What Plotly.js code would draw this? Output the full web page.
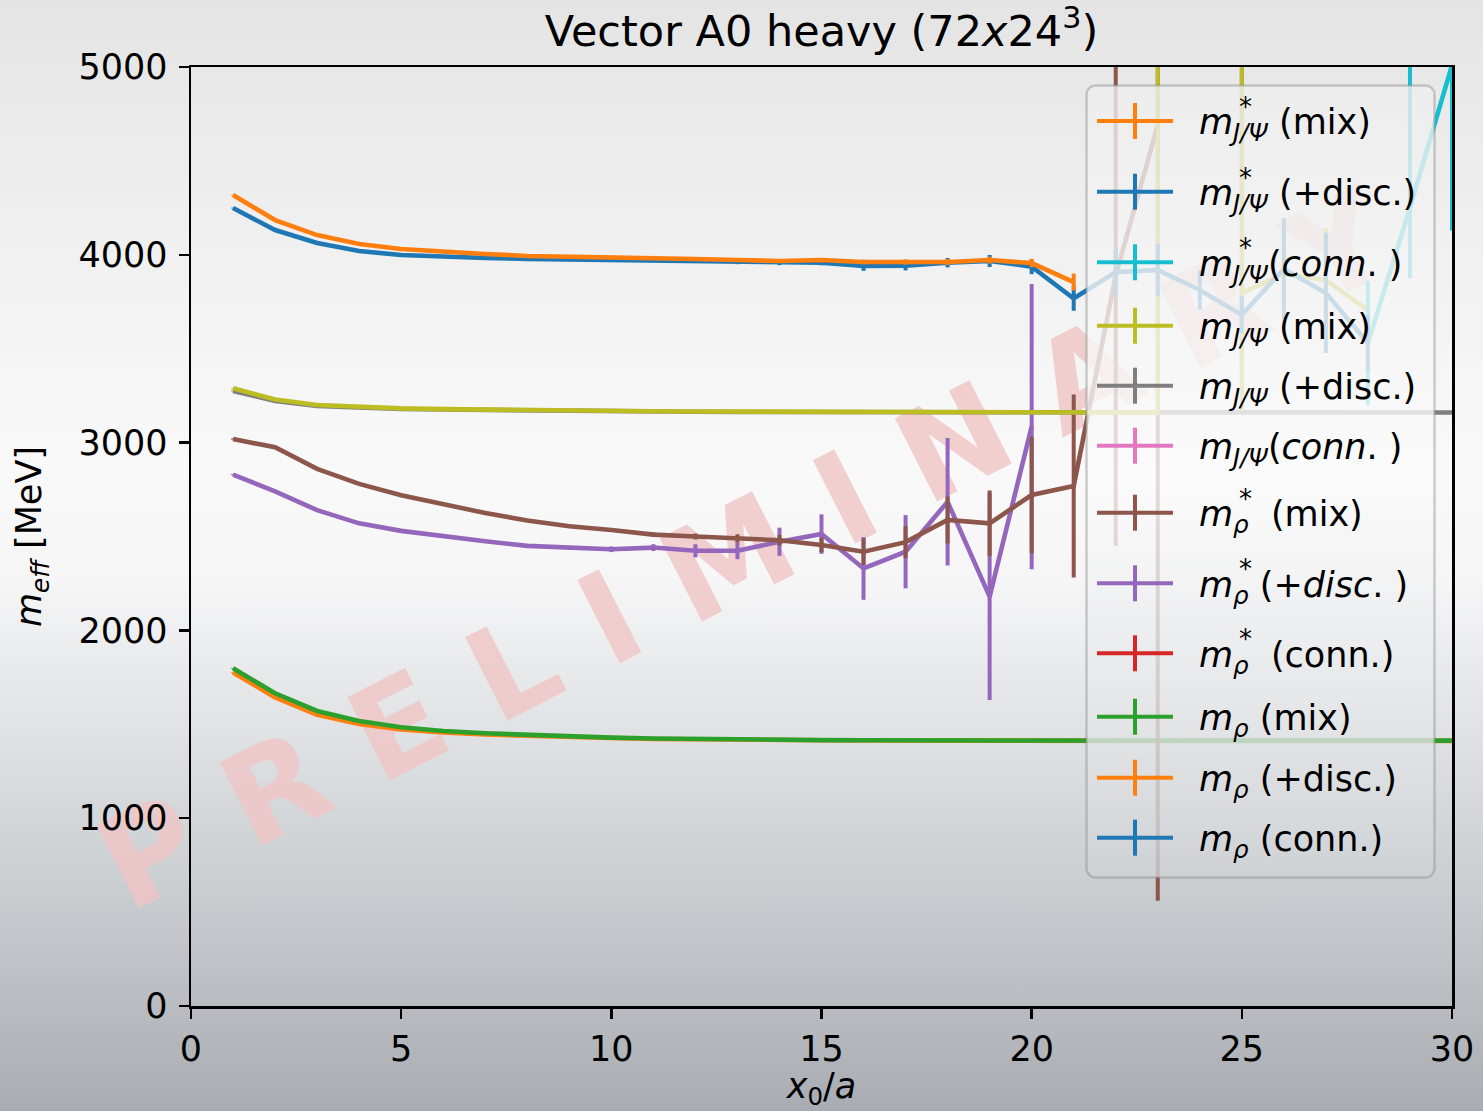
<!DOCTYPE html>
<html><head><meta charset="utf-8">
<script src="https://cdn.plot.ly/plotly-3.0.1.min.js"></script>
<style>
html,body{margin:0;padding:0;}
body{width:1483px;height:1111px;overflow:hidden;background:linear-gradient(to bottom,#e4e4e4 0%,#ebebeb 12%,#f3f3f3 28%,#f9f9f9 42%,#f6f6f7 52%,#e6e7e9 62%,#d3d6d9 74%,#c0c4c8 86%,#a9adb3 100%);}
#chart{width:1483px;height:1111px;}
</style></head><body><div id="chart"></div><script>
// ---------------- data ----------------
const xVals = [1,2,3,4,5,6,7,8,9,10,11,12,13,14,15,16,17,18,19,20,21,22,23,24,25,26,27,28,29,30];
const xTickVals = [0,5,10,15,20,25,30];
const xTickText = ['0','5','10','15','20','25','30'];
const yTickVals = [0,1000,2000,3000,4000,5000];
const yTickText = ['0','1000','2000','3000','4000','5000'];

const seriesLabels = [
 '<i>m</i><sub><i>J/Ψ</i></sub> (mix)',
 '<i>m</i><sub><i>J/Ψ</i></sub> (+disc.)',
 '<i>m</i><sub><i>J/Ψ</i></sub>(<i>conn</i>. )',
 '<i>m</i><sub><i>J/Ψ</i></sub> (mix)',
 '<i>m</i><sub><i>J/Ψ</i></sub> (+disc.)',
 '<i>m</i><sub><i>J/Ψ</i></sub>(<i>conn</i>. )',
 '<i>m</i><sub><i>ρ</i></sub>\u00a0\u00a0(mix)',
 '<i>m</i><sub><i>ρ</i></sub>\u00a0(+<i>disc</i>. )',
 '<i>m</i><sub><i>ρ</i></sub>\u00a0\u00a0(conn.)',
 '<i>m</i><sub><i>ρ</i></sub> (mix)',
 '<i>m</i><sub><i>ρ</i></sub> (+disc.)',
 '<i>m</i><sub><i>ρ</i></sub> (conn.)'
];
const starred = [true,true,true,false,false,false,true,true,true,false,false,false];
const seriesColors = ['#ff7f0e','#1f77b4','#17becf','#bcbd22','#7f7f7f','#e377c2','#8c564b','#9467bd','#d62728','#2ca02c','#ff7f0e','#1f77b4'];

// m*_J/Psi (mix)
const jpsiStarMix = [4318,4185,4105,4057,4031,4015,4004,3994,3991,3988,3983,3978,3972,3967,3972,3962,3962,3962,3972,3956,3855,null,null,null,null,null,null,null,null,null];
const jpsiStarMixErr = [2,2,3,3,3,4,4,4,5,5,6,6,7,8,10,12,14,16,18,22,45,null,null,null,null,null,null,null,null,null];
// m*_J/Psi (+disc.)
const jpsiStarDisc = [4249,4132,4063,4020,3999,3988,3983,3978,3975,3972,3968,3963,3958,3955,3958,3940,3942,3958,3967,3937,3767,3908,3919,3813,3680,3925,3797,3530,null,null];
const jpsiStarDiscErr = [2,2,3,3,3,4,4,5,5,5,6,7,8,10,14,25,25,25,32,40,65,120,140,105,100,270,320,150,null,null];
// m*_J/Psi (conn.)
const jpsiStarConn = [null,null,null,null,null,null,null,null,null,null,null,null,null,null,null,null,null,null,null,null,null,null,null,null,null,null,null,3530,4250,5010];
const jpsiStarConnErrPlus = [null,null,null,null,null,null,null,null,null,null,null,null,null,null,null,null,null,null,null,null,null,null,null,null,null,null,null,330,1200,900];
const jpsiStarConnErrMinus = [null,null,null,null,null,null,null,null,null,null,null,null,null,null,null,null,null,null,null,null,null,null,null,null,null,null,null,330,373,880];
// m_J/Psi (mix)
const jpsiMix = [3289,3230,3200,3188,3182,3178,3175,3172,3170,3168,3167,3166,3165,3165,3164,3164,3163,3163,3163,3162,3162,3162,3160,null,3797,3900,3865,3705,null,null];
const jpsiMixErrPlus = [2,2,2,2,2,2,2,2,2,2,2,2,2,2,3,3,3,3,4,4,5,6,3000,null,2000,150,277,150,null,null];
const jpsiMixErrMinus = [2,2,2,2,2,2,2,2,2,2,2,2,2,2,3,3,3,3,4,4,5,6,10,null,627,150,277,150,null,null];
// m_J/Psi (+disc.)
const jpsiDisc = [3275,3222,3195,3184,3179,3176,3173,3170,3168,3166,3165,3164,3163,3163,3162,3162,3161,3161,3161,3160,3160,3160,3160,3160,3160,3160,3160,3160,3160,3160];
const jpsiDiscErr = [2,2,2,2,2,2,2,2,2,2,2,2,2,2,3,3,3,3,4,4,5,5,6,6,7,7,8,8,9,9];
// m_J/Psi (conn.)
const jpsiConn = [];
// m*_rho (mix)
const rhoStarMix = [3019,2975,2860,2780,2720,2670,2625,2585,2555,2535,2510,2500,2490,2480,2455,2419,2470,2588,2570,2721,2769,3890,4690,null,4500,null,null,null,null,null];
const rhoStarMixErrPlus = [3,3,4,4,5,5,6,7,8,10,12,16,22,28,39,70,85,125,175,310,487,1500,4200,null,1500,null,null,null,null,null];
const rhoStarMixErrMinus = [3,3,4,4,5,5,6,7,8,10,12,16,22,28,39,70,85,125,175,310,487,1440,4130,null,1330,null,null,null,null,null];
// m*_rho (+disc.)
const rhoStarDisc = [2830,2740,2640,2570,2530,2500,2475,2450,2440,2432,2441,2424,2424,2472,2513,2330,2419,2685,2180,3085,null,null,null,null,null,null,null,null,null,null];
const rhoStarDiscErr = [3,4,4,5,5,6,7,8,10,15,18,35,45,75,105,167,195,340,550,760,null,null,null,null,null,null,null,null,null,null];
// m*_rho (conn.)
const rhoStarConn = [];
// m_rho (mix)
const rhoMix = [1798,1665,1571,1518,1484,1464,1452,1443,1434,1429,1424,1421,1419,1417,1416,1415,1414,1414,1413,1413,1413,1413,1413,1413,1413,1413,1413,1413,1413,1413];
const rhoMixErr = [2,2,2,2,2,2,2,2,2,2,2,2,2,2,2,2,2,2,2,2,2,2,2,2,2,2,2,2,2,2];
// m_rho (+disc.)
const rhoDisc = [1776,1643,1550,1502,1473,1456,1446,1438,1432,1427,1422,1419,1417,1416,1415,1414,1413,1413,1412,1412,1412,1412,1412,1412,1412,1412,1412,1412,1412,1412];
const rhoDiscErr = [2,2,2,2,2,2,2,2,2,2,2,2,2,2,2,2,2,2,2,2,2,2,2,2,2,2,2,2,2,2];
// m_rho (conn.)
const rhoConn = [];

const seriesY = [jpsiStarMix, jpsiStarDisc, jpsiStarConn, jpsiMix, jpsiDisc, jpsiConn, rhoStarMix, rhoStarDisc, rhoStarConn, rhoMix, rhoDisc, rhoConn];
const seriesErrPlus = [jpsiStarMixErr, jpsiStarDiscErr, jpsiStarConnErrPlus, jpsiMixErrPlus, jpsiDiscErr, [], rhoStarMixErrPlus, rhoStarDiscErr, [], rhoMixErr, rhoDiscErr, []];
const seriesErrMinus = [jpsiStarMixErr, jpsiStarDiscErr, jpsiStarConnErrMinus, jpsiMixErrMinus, jpsiDiscErr, [], rhoStarMixErrMinus, rhoStarDiscErr, [], rhoMixErr, rhoDiscErr, []];

// ---------------- geometry helpers (layout only) ----------------
const W = 1483, H = 1111;
const M = {l:191, r:31, t:67, b:105};
const PW = W - M.l - M.r, PH = H - M.t - M.b;
const px2x = p => (p - M.l) / PW;
const px2y = p => (H - M.b - p) / PH;

// traces, drawn in reverse legend order (last legend entry at the bottom)
const traces = [];
for (let i = seriesY.length - 1; i >= 0; i--) {
  const ys = seriesY[i];
  traces.push({
    type: 'scatter', mode: 'lines',
    x: ys.length ? xVals : [], y: ys,
    name: seriesLabels[i], showlegend: false, hoverinfo: 'skip',
    line: {color: seriesColors[i], width: 4.6},
    error_y: {type: 'data', symmetric: false, array: seriesErrPlus[i], arrayminus: seriesErrMinus[i],
              color: seriesColors[i], thickness: 4, width: 0, visible: true}
  });
}

// legend (drawn manually to mimic the errorbar legend)
const LB = {x0: 1085, y0: 84, x1: 1436, y1: 879};
const rowY = [121, 191.7, 262.3, 325.7, 385.7, 445.7, 512.7, 583.3, 653.3, 716.7, 777.7, 837.7];
const lw = LB.x1 - LB.x0, lh = LB.y1 - LB.y0;
const svg = '<svg xmlns="http://www.w3.org/2000/svg" width="' + lw + '" height="' + lh + '" viewBox="0 0 ' + lw + ' ' + lh + '">' +
  '<defs><linearGradient id="g" x1="0" y1="0" x2="0" y2="1">' +
  '<stop offset="0" stop-color="#eeeeee"/><stop offset="0.5" stop-color="#fbfbfb"/>' +
  '<stop offset="0.78" stop-color="#e6e7e9"/><stop offset="1" stop-color="#d0d3d6"/></linearGradient></defs>' +
  '<rect x="1.5" y="1.5" width="' + (lw - 3) + '" height="' + (lh - 3) + '" rx="9" ry="9" fill="url(#g)" fill-opacity="0.8" stroke="#808080" stroke-opacity="0.38" stroke-width="2.5"/></svg>';
const images = [{
  source: 'data:image/svg+xml;base64,' + btoa(svg),
  xref: 'paper', yref: 'paper', x: px2x(LB.x0), y: px2y(LB.y0),
  sizex: lw / PW, sizey: lh / PH, xanchor: 'left', yanchor: 'top', sizing: 'stretch', layer: 'above'
}];

const shapes = [];
const annotations = [];
// watermark, below the data
shapes.push({
  type: 'rect', xref: 'paper', yref: 'paper', layer: 'below',
  x0: px2x(717), x1: px2x(763), y0: px2y(565), y1: px2y(519),
  line: {width: 0, color: 'rgba(0,0,0,0)'}, fillcolor: 'rgba(0,0,0,0)',
  label: {text: 'P R E L I M I N A R Y', textangle: -27, textposition: 'middle center',
          font: {family: 'DejaVu Sans', size: 128, weight: 'bold', color: 'rgba(240,196,196,0.8)'}}
});
for (let i = 0; i < seriesLabels.length; i++) {
  const y = rowY[i];
  shapes.push({type: 'line', xref: 'paper', yref: 'paper', layer: 'above',
    x0: px2x(1097), x1: px2x(1173), y0: px2y(y), y1: px2y(y), line: {color: seriesColors[i], width: 4}});
  shapes.push({type: 'line', xref: 'paper', yref: 'paper', layer: 'above',
    x0: px2x(1135), x1: px2x(1135), y0: px2y(y - 18), y1: px2y(y + 18), line: {color: seriesColors[i], width: 4}});
  annotations.push({xref: 'paper', yref: 'paper', x: px2x(1197), y: px2y(y + 4), xanchor: 'left', yanchor: 'middle',
    text: seriesLabels[i], showarrow: false, font: {family: 'DejaVu Sans', size: 35, color: '#000'}});
  if (starred[i]) {
    annotations.push({xref: 'paper', yref: 'paper', x: px2x(1245), y: px2y(y - 14), xanchor: 'center', yanchor: 'middle',
      text: '*', showarrow: false, font: {family: 'DejaVu Sans', size: 26, color: '#000'}});
  }
}

const axisCommon = {
  showline: true, linewidth: 2.5, linecolor: '#000', mirror: true,
  ticks: 'outside', ticklen: 10, tickwidth: 2.5, tickcolor: '#000',
  showgrid: false, zeroline: false, tickmode: 'array',
  tickfont: {family: 'DejaVu Sans', size: 35, color: '#000'}
};

const layout = {
  width: W, height: H, margin: {l: M.l, r: M.r, t: M.t, b: M.b, pad: 0},
  paper_bgcolor: 'rgba(0,0,0,0)', plot_bgcolor: 'rgba(0,0,0,0)',
  font: {family: 'DejaVu Sans', size: 34, color: '#000'},
  showlegend: false,
  title: {text: 'Vector A0 heavy (72<i>x</i>24<sup>3</sup>)', xref: 'paper', x: 0.5, xanchor: 'center',
          yref: 'container', y: 0.972, yanchor: 'middle', font: {family: 'DejaVu Sans', size: 43, color: '#000'}},
  xaxis: Object.assign({}, axisCommon, {range: [0, 30], tickvals: xTickVals, ticktext: xTickText,
    title: {text: '<i>x</i><sub>0</sub>/<i>a</i>', standoff: 15, font: {family: 'DejaVu Sans', size: 35, color: '#000'}}}),
  yaxis: Object.assign({}, axisCommon, {range: [0, 5000], tickvals: yTickVals, ticktext: yTickText, ticklabelstandoff: 4,
    title: {text: '<i>m</i><sub><i>eff</i></sub> [MeV]', standoff: 26, font: {family: 'DejaVu Sans', size: 35, color: '#000'}}}),
  shapes: shapes, annotations: annotations, images: images
};

Plotly.newPlot('chart', traces, layout, {displayModeBar: false, staticPlot: true});
</script></body></html>
